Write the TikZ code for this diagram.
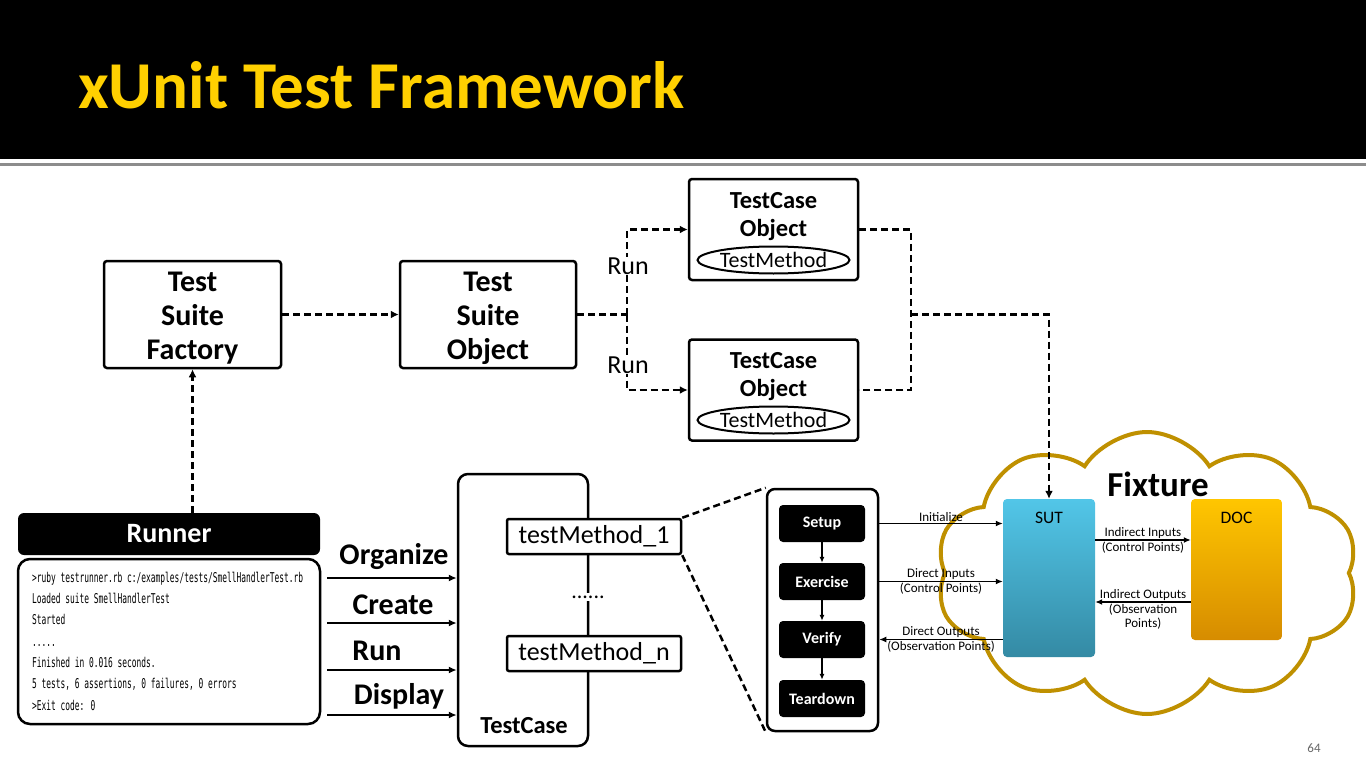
\documentclass[tikz,border=0pt]{standalone}
\usepackage{fontspec}
\setmainfont{Carlito}
\newfontfamily\consolefont{DejaVu Sans Mono}
\usetikzlibrary{arrows.meta,positioning,shapes.geometric,shapes.symbols}

\definecolor{titleyellow}{RGB}{255,208,0}
\definecolor{fixturegold}{RGB}{191,144,0}
\definecolor{sutlight}{RGB}{82,198,232}
\definecolor{sutdark}{RGB}{52,138,164}
\definecolor{doclight}{RGB}{255,198,0}
\definecolor{docdark}{RGB}{214,140,0}

\tikzset{
  flowbox/.style={draw, line width=2.5pt, rounded corners=3pt, fill=white, align=center, inner sep=0pt},
  suitetext/.style={align=center, font=\fontsize{30}{34}\selectfont\bfseries},
  stepbox/.style={fill=black, rounded corners=4pt, text=white, minimum width=86pt, minimum height=37pt,
    font=\fontsize{16}{19}\selectfont\bfseries},
  methodbox/.style={draw, line width=2.5pt, rounded corners=2pt, fill=white, minimum width=174pt,
    minimum height=35pt, font=\fontsize{26}{30}\selectfont},
  methodoval/.style={draw, ellipse, line width=2pt, minimum width=152pt, minimum height=27pt, inner sep=0pt,
    font=\fontsize{22}{26}\selectfont},
  objlabel/.style={font=\fontsize{24.5}{28}\selectfont\bfseries},
  dashline/.style={line width=2.5pt, dash pattern=on 7pt off 4pt},
  dasharrow/.style={dashline, -{Latex[length=8pt,width=8pt]}},
  verbarrow/.style={line width=2.5pt, -{Latex[length=8pt,width=7pt]}},
  thinarrow/.style={line width=1.3pt, -{Latex[length=7pt,width=6pt]}},
  verblabel/.style={font=\fontsize{30}{34}\selectfont\bfseries},
  smalllabel/.style={font=\fontsize{13}{14.5}\selectfont, inner sep=1pt},
  consoleline/.style={anchor=base west, xscale=0.585, inner sep=0pt, font=\consolefont\fontsize{13.5}{16}\selectfont}
}

\begin{document}
\begin{tikzpicture}[x=1pt, y=-1pt]

\useasboundingbox (0,0) rectangle (1366,768);

% header
\fill[black] (0,0) rectangle (1366,159);
\draw[black!45, line width=3pt] (0,164) -- (1366,164);
\node[anchor=base west, inner sep=0pt, text=titleyellow, font=\fontsize{67}{70}\selectfont\bfseries] (title)
  at (78,108) {xUnit Test Framework};

% suite boxes
\node[flowbox, minimum width=177pt, minimum height=107pt] (factory) at (192.5,314.5) {};
\node[suitetext] (factorytext) at (192.5,318.5) {Test\\Suite\\Factory};
\node[flowbox, minimum width=176pt, minimum height=107pt] (suite) at (488,314.5) {};
\node[suitetext] (suitetext) at (488,318.5) {Test\\Suite\\Object};

% testcase objects
\node[flowbox, minimum width=169pt, minimum height=101pt] (tcobjA) at (773.5,229.5) {};
\node[objlabel] (tcnameA) at (773.5,201) {TestCase};
\node[objlabel] (tcsubA) at (773.5,230) {Object};
\node[methodoval] (ovalA) at (773.5,260) {TestMethod};

\node[flowbox, minimum width=169pt, minimum height=101pt] (tcobjB) at (773.5,390) {};
\node[objlabel] (tcnameB) at (773.5,361) {TestCase};
\node[objlabel] (tcsubB) at (773.5,390) {Object};
\node[methodoval] (ovalB) at (773.5,420) {TestMethod};

\draw[dasharrow] (factory) -- (suite);
\coordinate (split) at (627,314.5);
\draw[dashline] (suite.east) -- (split);
\draw[dasharrow] (split) |- (tcobjA.west);
\draw[dasharrow] (split) |- (tcobjB.west);
\node[fill=white, inner sep=1pt, font=\fontsize{26}{30}\selectfont] (runA) at (628,266) {Run};
\node[fill=white, inner sep=1pt, font=\fontsize{26}{30}\selectfont] (runB) at (628,365) {Run};

\coordinate (join) at (911,314.5);
\draw[dashline] (tcobjA.east) -| (join) |- (tcobjB.east);

% runner
\node[fill=black, rounded corners=6pt, minimum width=302pt, minimum height=42pt, text=white,
  font=\fontsize{28}{32}\selectfont\bfseries] (runner) at (169,534) {Runner};
\node[draw, line width=2.5pt, rounded corners=12pt, minimum width=302pt, minimum height=165pt]
  (console) at (169,641.5) {};
\node[consoleline] (con1) at (32,582.3) {>ruby testrunner.rb c:/examples/tests/SmellHandlerTest.rb};
\node[consoleline] (con2) at (32,603.6) {Loaded suite SmellHandlerTest};
\node[consoleline] (con3) at (32,624.9) {Started};
\node[consoleline] (con4) at (32,646.2) {.....};
\node[consoleline] (con5) at (32,667.5) {Finished in 0.016 seconds.};
\node[consoleline] (con6) at (32,688.8) {5 tests, 6 assertions, 0 failures, 0 errors};
\node[consoleline] (con7) at (32,710.1) {>Exit code: 0};

\draw[dasharrow] (factory.south |- runner.north) -- (factory.south);

% testcase
\node[draw, line width=2.5pt, rounded corners=10pt, minimum width=130pt, minimum height=272pt]
  (testcase) at (523,610) {};
\node[objlabel] (tcname) at (524,726) {TestCase};
\node[fill=white, inner sep=3pt, font=\fontsize{22}{26}\selectfont] (dots) at (588,597) {......};
\node[methodbox] (method1) at (594,536.5) {testMethod\_1};
\node[methodbox] (methodn) at (594,653.5) {testMethod\_n};

\coordinate (orgstart) at (327,578);
\coordinate (crestart) at (327,623);
\coordinate (runstart) at (327,670);
\coordinate (disstart) at (327,715);
\draw[verbarrow] (orgstart) -- (orgstart -| testcase.west);
\draw[verbarrow] (crestart) -- (crestart -| testcase.west);
\draw[verbarrow] (runstart) -- (runstart -| testcase.west);
\draw[verbarrow] (disstart) -- (disstart -| testcase.west);
\node[verblabel] (organize) at (394,557) {Organize};
\node[verblabel] (create) at (393,605) {Create};
\node[verblabel] (run) at (377,651) {Run};
\node[verblabel] (display) at (399,696) {Display};

% phases
\node[draw, line width=2.5pt, rounded corners=8pt, minimum width=111pt, minimum height=242pt]
  (phases) at (822.5,610) {};
\node[stepbox] (setup) at (822,523.5) {Setup};
\node[stepbox] (exercise) at (822,581.5) {Exercise};
\node[stepbox] (verify) at (822,639.5) {Verify};
\node[stepbox] (teardown) at (822,698.5) {Teardown};
\foreach \a/\b in {setup/exercise, exercise/verify, verify/teardown}
  \draw[line width=1.2pt, -{Latex[length=6pt,width=5pt]}] (\a) -- (\b);

\draw[dashline] (method1.north east) -- (phases.north west);
\draw[dashline] (method1.south east) -- (phases.south west);

% fixture
\node[cloud, cloud puffs=10, cloud puff arc=115, draw=fixturegold, line width=4pt, fill=white,
  minimum width=422pt, minimum height=282pt, inner sep=0pt] (fixture) at (1147,573) {};
\node[font=\fontsize{35}{40}\selectfont\bfseries] (fixturename) at (1158,484) {Fixture};

\node[top color=sutlight, bottom color=sutdark, rounded corners=4pt, minimum width=92pt,
  minimum height=158pt] (sut) at (1049,578) {};
\node[font=\fontsize{17.5}{20}\selectfont] (sutname) at (1049,518) {SUT};
\node[top color=doclight, bottom color=docdark, rounded corners=4pt, minimum width=91pt,
  minimum height=141pt] (doc) at (1236.5,569.5) {};
\node[font=\fontsize{17.5}{20}\selectfont] (docname) at (1236.5,518) {DOC};

\draw[dasharrow] (join) -| (sut.north);

\draw[thinarrow] (setup -| phases.east) -- node[smalllabel, above] {Initialize} (setup -| sut.west);
\draw[thinarrow] (exercise -| phases.east) -- node[smalllabel, above] {Direct Inputs}
  node[smalllabel, below] {(Control Points)} (exercise -| sut.west);
\draw[thinarrow] (verify -| sut.west) -- node[smalllabel, above] {Direct Outputs}
  node[smalllabel, below] {(Observation Points)} (verify -| phases.east);

\coordinate (indin) at (1095,540);
\coordinate (indout) at (1191,602);
\draw[thinarrow] (indin) -- node[smalllabel, above] {Indirect Inputs}
  node[smalllabel, below] {(Control Points)} (indin -| doc.west);
\draw[thinarrow] (indout) -- node[smalllabel, above] {Indirect Outputs}
  node[smalllabel, below, align=center] {(Observation\\Points)} (indout -| sut.east);

\node[text=black!60, font=\fontsize{13}{15}\selectfont] (pagenum) at (1314,748) {64};

\end{tikzpicture}
\end{document}
